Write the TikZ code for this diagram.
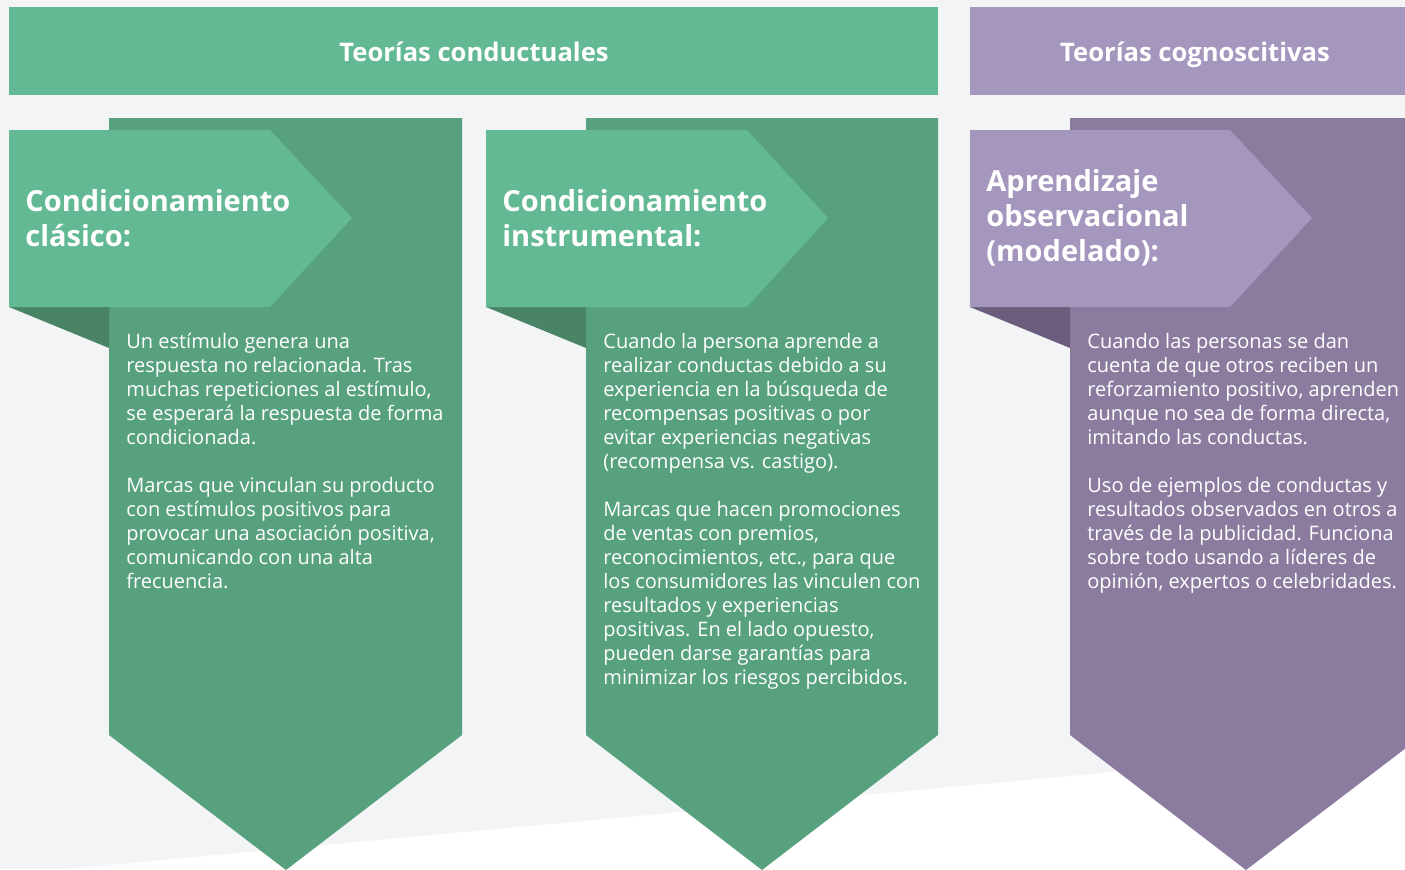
\documentclass[tikz,border=0pt]{standalone}
\usepackage{fontspec}
\setmainfont{Open Sans}
\definecolor{bggray}{HTML}{F3F4F6}
\definecolor{condlight}{HTML}{64B995}
\definecolor{conddark}{HTML}{57A17F}
\definecolor{condfold}{HTML}{4A8466}
\definecolor{cognlight}{HTML}{A596BE}
\definecolor{cogndark}{HTML}{8B7C9F}
\definecolor{cognfold}{HTML}{6B5D7E}
\begin{document}
\begin{tikzpicture}[x=0.5pt,y=-0.5pt,
    header/.style={font=\fontsize{12.8}{15}\selectfont\bfseries, text=white, anchor=base, inner sep=0pt},
    tabtitle/.style={font=\fontsize{14.5}{17.5}\selectfont\bfseries, text=white, align=left, anchor=west, inner sep=0pt},
    bodytext/.style={font=\fontsize{10}{12}\selectfont, text=white, align=left, anchor=north west, inner sep=0pt}]
    \useasboundingbox (0,0) rectangle (1405,869);
    \clip (0,0) rectangle (1405,869);
    % background
    \fill[bggray] (0,0) rectangle (1405,869);
    \fill[white] (0,875) -- (1405,745) -- (1405,869) -- (0,869) -- cycle;

    % headers
    \fill[condlight] (9,7) rectangle (938,95);
    \fill[cognlight] (970,7) rectangle (1420,95);
    \node[header] (conductuales) at (474,61) {Teorías conductuales};
    \node[header] (cognoscitivas) at (1195,61) {Teorías cognoscitivas};

    % column 1
    \fill[conddark] (109,118) -- (462,118) -- (462,735) -- (286,870) -- (109,735) -- cycle;
    \fill[condfold] (9,307) -- (109,307) -- (109,348) -- cycle;
    \fill[condlight] (9,130) -- (270,130) -- (352,218) -- (270,307) -- (9,307) -- cycle;
    \node[tabtitle] (clasico) at (25,218) {Condicionamiento\\clásico:};
    \node[bodytext] (clasicotext) at (126,333) {Un estímulo genera una\\respuesta no relacionada. Tras\\muchas repeticiones al estímulo,\\se esperará la respuesta de forma\\condicionada.\\[12pt]Marcas que vinculan su producto\\con estímulos positivos para\\provocar una asociación positiva,\\comunicando con una alta\\frecuencia.};

    % column 2
    \fill[conddark] (586,118) -- (938,118) -- (938,735) -- (762,870) -- (586,735) -- cycle;
    \fill[condfold] (486,307) -- (586,307) -- (586,348) -- cycle;
    \fill[condlight] (486,130) -- (747,130) -- (828,218) -- (747,307) -- (486,307) -- cycle;
    \node[tabtitle] (instrumental) at (502,218) {Condicionamiento\\instrumental:};
    \node[bodytext] (instrumentaltext) at (603,333) {Cuando la persona aprende a\\realizar conductas debido a su\\experiencia en la búsqueda de\\recompensas positivas o por\\evitar experiencias negativas\\(recompensa vs. castigo).\\[12pt]Marcas que hacen promociones\\de ventas con premios,\\reconocimientos, etc., para que\\los consumidores las vinculen con\\resultados y experiencias\\positivas. En el lado opuesto,\\pueden darse garantías para\\minimizar los riesgos percibidos.};

    % column 3
    \fill[cogndark] (1070,118) -- (1423,118) -- (1423,735) -- (1246,870) -- (1070,735) -- cycle;
    \fill[cognfold] (970,307) -- (1070,307) -- (1070,348) -- cycle;
    \fill[cognlight] (970,130) -- (1230,130) -- (1312,218) -- (1230,307) -- (970,307) -- cycle;
    \node[tabtitle] (observacional) at (986,218) {Aprendizaje\\observacional\\(modelado):};
    \node[bodytext] (observacionaltext) at (1087,333) {Cuando las personas se dan\\cuenta de que otros reciben un\\reforzamiento positivo, aprenden\\aunque no sea de forma directa,\\imitando las conductas.\\[12pt]Uso de ejemplos de conductas y\\resultados observados en otros a\\través de la publicidad. Funciona\\sobre todo usando a líderes de\\opinión, expertos o celebridades.};
\end{tikzpicture}
\end{document}
